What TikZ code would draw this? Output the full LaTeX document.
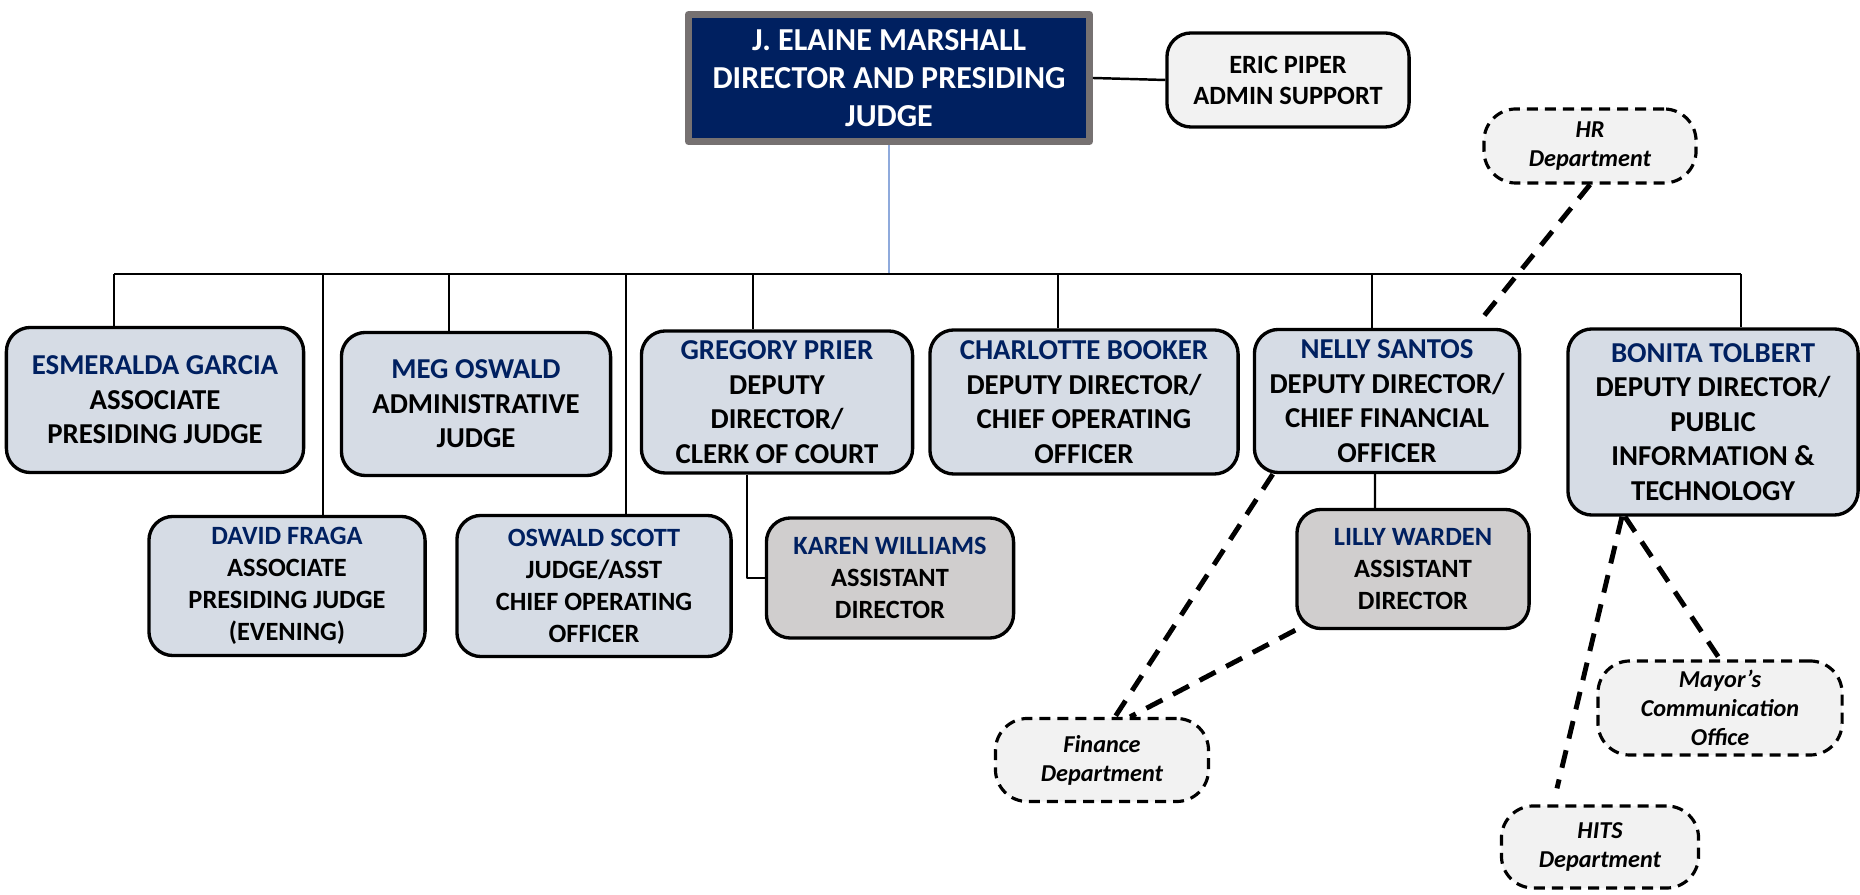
\documentclass[tikz,border=0pt]{standalone}
\usepackage{fontspec}
\setmainfont{Carlito}
\usetikzlibrary{positioning}
\definecolor{navy}{HTML}{002060}
\definecolor{boxblue}{HTML}{D6DCE5}
\definecolor{boxgray}{HTML}{D0CECE}
\definecolor{paleg}{HTML}{F2F2F2}
\definecolor{framegray}{HTML}{767171}
\definecolor{linkblue}{HTML}{8FAADC}
\newcommand{\who}[1]{\textcolor{navy}{#1}}

\begin{document}
\begin{tikzpicture}[x=0.01cm,y=-0.01cm,line join=round]

  \tikzstyle{role} = [draw,rounded corners=0.24cm,fill=boxblue,align=center,
                      line width=0.95pt,inner sep=0pt]
  \tikzstyle{toprole} = [role,font=\fontsize{8.2}{9.8}\selectfont\bfseries]
  \tikzstyle{lowrole} = [role,font=\fontsize{7.5}{9.1}\selectfont\bfseries]
  \tikzstyle{helper} = [lowrole,fill=boxgray]
  \tikzstyle{dept} = [draw,fill=paleg,rounded corners=0.32cm,align=center,inner sep=0pt,
                      line width=0.9pt,dash pattern=on 0.11cm off 0.07cm,
                      font=\fontsize{6.9}{8.3}\selectfont\bfseries\itshape]
  \tikzstyle{link} = [line width=0.7pt]
  \tikzstyle{dlink} = [line width=1.4pt,dash pattern=on 0.18cm off 0.12cm]

  \useasboundingbox (0,0) rectangle (1860,895);

  % top
  \node[fill=navy,draw=framegray,line width=1.9pt,text=white,align=center,
        minimum width=4.01cm,minimum height=1.27cm,inner sep=0pt,
        font=\fontsize{9.1}{10.8}\selectfont\bfseries] (D) at (889,78)
        {J. ELAINE MARSHALL\\DIRECTOR AND PRESIDING\\JUDGE};
  \node[role,fill=paleg,minimum width=2.42cm,minimum height=0.94cm,
        font=\fontsize{7.5}{8.8}\selectfont\bfseries] (EP) at (1288,80)
        {ERIC PIPER\\ADMIN SUPPORT};

  % first row
  \node[toprole,minimum width=2.97cm,minimum height=1.45cm] (EG) at (155,400)
        {\who{ESMERALDA GARCIA}\\ASSOCIATE\\PRESIDING JUDGE};
  \node[toprole,minimum width=2.69cm,minimum height=1.43cm] (MO) at (476,404)
        {\who{MEG OSWALD}\\ADMINISTRATIVE\\JUDGE};
  \node[toprole,minimum width=2.71cm,minimum height=1.42cm] (GP) at (777,402)
        {\who{GREGORY PRIER}\\DEPUTY\\DIRECTOR/\\CLERK OF COURT};
  \node[toprole,minimum width=3.08cm,minimum height=1.44cm] (CB) at (1084,402)
        {\who{CHARLOTTE BOOKER}\\DEPUTY DIRECTOR/\\CHIEF OPERATING\\OFFICER};
  \node[toprole,minimum width=2.65cm,minimum height=1.43cm] (NS) at (1387,401)
        {\who{NELLY SANTOS}\\DEPUTY DIRECTOR/\\CHIEF FINANCIAL\\OFFICER};
  \node[toprole,minimum width=2.90cm,minimum height=1.86cm] (BT) at (1713,422)
        {\who{BONITA TOLBERT}\\DEPUTY DIRECTOR/\\PUBLIC\\INFORMATION \&\\TECHNOLOGY};

  % second row
  \node[lowrole,minimum width=2.76cm,minimum height=1.39cm] (DF) at (287,586)
        {\who{DAVID FRAGA}\\ASSOCIATE\\PRESIDING JUDGE\\(EVENING)};
  \node[lowrole,minimum width=2.74cm,minimum height=1.41cm] (OS) at (594,586)
        {\who{OSWALD SCOTT}\\JUDGE/ASST\\CHIEF OPERATING\\OFFICER};
  \node[helper,minimum width=2.47cm,minimum height=1.20cm] (KW) at (890,578)
        {\who{KAREN WILLIAMS}\\ASSISTANT\\DIRECTOR};
  \node[helper,minimum width=2.32cm,minimum height=1.19cm] (LW) at (1413,569)
        {\who{LILLY WARDEN}\\ASSISTANT\\DIRECTOR};

  % departments
  \node[dept,minimum width=2.12cm,minimum height=0.74cm] (HR) at (1590,146)
        {HR\\Department};
  \node[dept,minimum width=2.13cm,minimum height=0.83cm] (FD) at (1102,760)
        {Finance\\Department};
  \node[dept,minimum width=2.44cm,minimum height=0.94cm] (MC) at (1720,708)
        {Mayor’s\\Communication\\Office};
  \node[dept,minimum width=1.97cm,minimum height=0.82cm] (HD) at (1600,847)
        {HITS\\Department};

  % bus
  \coordinate (bus) at (889,274);
  \coordinate (b1) at (114,274);
  \coordinate (b2) at (323,274);
  \coordinate (b3) at (449,274);
  \coordinate (b4) at (626,274);
  \coordinate (b5) at (753,274);
  \coordinate (b6) at (1058,274);
  \coordinate (b7) at (1372,274);
  \coordinate (b8) at (1741,274);

  \draw[linkblue,line width=0.5pt] (D.south) -- (bus);
  \draw[link] (D.east) -- (EP.west);
  \draw[link] (b1) -- (b8);
  \draw[link] (b1) -- (b1 |- EG.north);
  \draw[link] (b2) -- (b2 |- DF.north);
  \draw[link] (b3) -- (b3 |- MO.north);
  \draw[link] (b4) -- (b4 |- OS.north);
  \draw[link] (b5) -- (b5 |- GP.north);
  \draw[link] (b6) -- (b6 |- CB.north);
  \draw[link] (b7) -- (b7 |- NS.north);
  \draw[link] (b8) -- (b8 |- BT.north);
  \draw[link] ([xshift=-0.3cm]GP.south) |- (KW.west);
  \draw[link] ([xshift=-0.12cm]NS.south) -- ([xshift=-0.38cm]LW.north);

  % dotted lines of report
  \draw[dlink] (HR.south) -- ([xshift=0.93cm,yshift=0.07cm]NS.north);
  \draw[dlink] ([xshift=0.2cm]NS.south west) -- ([xshift=0.13cm]FD.north);
  \draw[dlink] (LW.south west) -- ([xshift=0.28cm]FD.north);
  \draw[dlink] ([xshift=-0.88cm]BT.south) -- (MC.north);
  \draw[dlink] ([xshift=-0.91cm]BT.south) -- ([xshift=-0.43cm,yshift=0.16cm]HD.north);

\end{tikzpicture}
\end{document}
